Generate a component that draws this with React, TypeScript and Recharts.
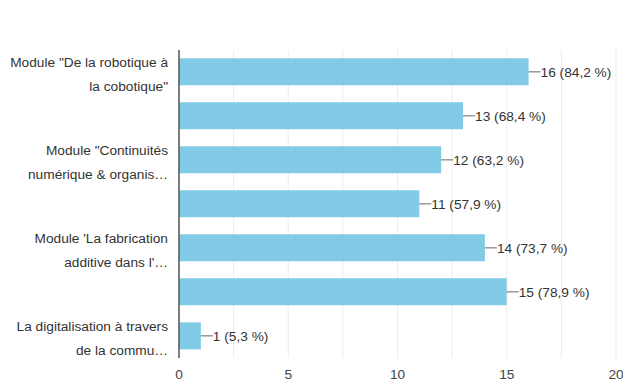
import React from 'react';
import { BarChart, Bar, XAxis, YAxis, CartesianGrid, LabelList } from 'recharts';

const categories = [
  'Module "De la robotique à la cobotique"',
  'Module 2',
  'Module "Continuités numérique & organisation"',
  'Module 4',
  "Module 'La fabrication additive dans l'industrie'",
  'Module 6',
  'La digitalisation à travers de la communication',
];
const tickLines: string[][] = [
  ['Module "De la robotique à', 'la cobotique"'],
  [],
  ['Module "Continuités', 'numérique & organis…'],
  [],
  ["Module 'La fabrication", "additive dans l'…"],
  [],
  ['La digitalisation à travers', 'de la commu…'],
];
const counts = [16, 13, 12, 11, 14, 15, 1];
const percents = ['84,2', '68,4', '63,2', '57,9', '73,7', '78,9', '5,3'];
const xTicks = [0, 2.5, 5, 7.5, 10, 12.5, 15, 17.5, 20];

const data = categories.map((name, i) => ({ name, value: counts[i], pct: percents[i] }));

const FONT = '"Liberation Sans", Arial, sans-serif';
const FS = 13.7;

const YTick = (props: any) => {
  const { x, y, index } = props;
  const lines = tickLines[index] || [];
  if (!lines.length) return null;
  return (
    <text x={x - 3} y={y} textAnchor="end" fontFamily={FONT} fontSize={FS} fill="#333">
      <tspan x={x - 3} dy={-5}>{lines[0]}</tspan>
      <tspan x={x - 3} dy={24}>{lines[1]}</tspan>
    </text>
  );
};

const XTick = (props: any) => {
  const { x, y, payload } = props;
  const v = payload.value;
  if (v % 5 !== 0) return null;
  return (
    <text x={x} y={y + 13} textAnchor="middle" fontFamily={FONT} fontSize={FS} fill="#444">
      {v}
    </text>
  );
};

const ValueLabel = (props: any) => {
  const { x, y, width, height, index } = props;
  const cx = x + width;
  const cy = y + height / 2;
  return (
    <g>
      <line x1={cx} y1={cy} x2={cx + 12} y2={cy} stroke="#666" strokeWidth={1} />
      <text x={cx + 12} y={cy + 5} fontFamily={FONT} fontSize={FS} fill="#333">
        {`${counts[index]} (${percents[index]} %)`}
      </text>
    </g>
  );
};

export default function App() {
  return (
    <div style={{ position: 'absolute', left: 0, top: 0, width: 623, height: 387, background: '#fff' }}>
      <BarChart
        width={623}
        height={387}
        data={data}
        layout="vertical"
        margin={{ top: 50, right: 7, bottom: 0, left: 0 }}
        barCategoryGap="19%"
      >
        <CartesianGrid horizontal={false} stroke="#ebebeb" />
        <XAxis
          type="number"
          domain={[0, 20]}
          ticks={xTicks}
          interval={0}
          axisLine={false}
          tickLine={false}
          height={29}
          tick={<XTick />}
        />
        <YAxis
          type="category"
          dataKey="name"
          width={179}
          interval={0}
          tickLine={false}
          axisLine={{ stroke: '#555', strokeWidth: 1.5 }}
          tick={<YTick />}
        />
        <Bar dataKey="value" fill="#82cbe6" isAnimationActive={false}>
          <LabelList dataKey="value" content={<ValueLabel />} />
        </Bar>
      </BarChart>
    </div>
  );
}
